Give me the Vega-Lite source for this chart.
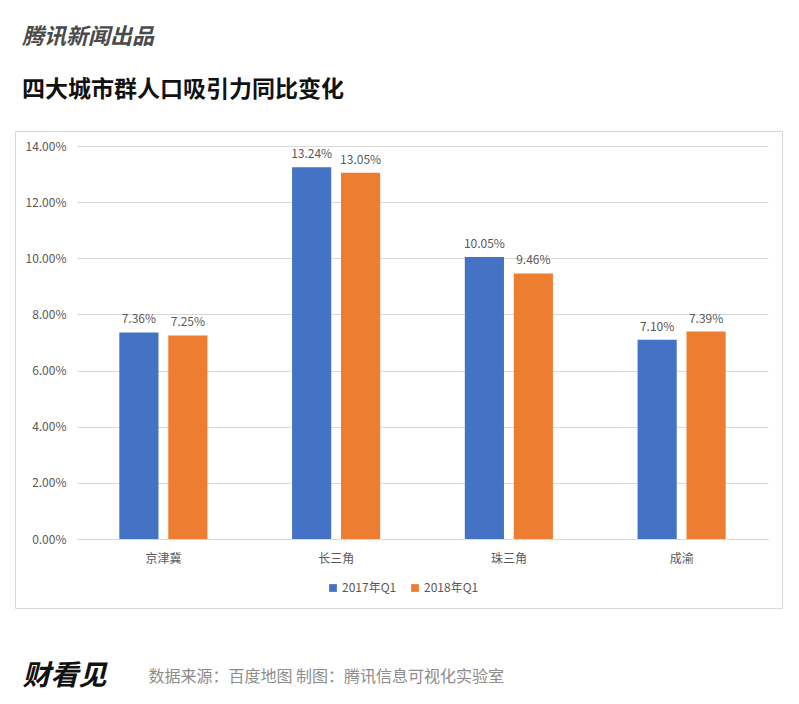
{
  "$schema": "https://vega.github.io/schema/vega-lite/v6.json",
  "autosize": {"type": "none"},
  "width": 767,
  "height": 477,
  "padding": {"left": 15, "top": 131, "right": 17, "bottom": 96},
  "background": "white",
  "config": {
    "view": {"stroke": "#d9d9d9", "strokeWidth": 1},
    "font": "Noto Sans CJK SC"
  },
  "title": {
    "text": "腾讯新闻出品",
    "subtitle": "四大城市群人口吸引力同比变化",
    "anchor": "start",
    "frame": "group",
    "fontSize": 22,
    "fontWeight": "bold",
    "fontStyle": "italic",
    "color": "#4a4a4a",
    "subtitleFontSize": 23,
    "subtitleFontWeight": "bold",
    "subtitleColor": "#111111",
    "subtitlePadding": 30,
    "offset": 28,
    "dx": 7
  },
  "data": {
    "values": [
      {"region": "京津冀", "series": "2017年Q1", "value": 0.0736},
      {"region": "京津冀", "series": "2018年Q1", "value": 0.0725},
      {"region": "长三角", "series": "2017年Q1", "value": 0.1324},
      {"region": "长三角", "series": "2018年Q1", "value": 0.1305},
      {"region": "珠三角", "series": "2017年Q1", "value": 0.1005},
      {"region": "珠三角", "series": "2018年Q1", "value": 0.0946},
      {"region": "成渝", "series": "2017年Q1", "value": 0.0710},
      {"region": "成渝", "series": "2018年Q1", "value": 0.0739}
    ]
  },
  "encoding": {
    "x": {
      "field": "region",
      "type": "nominal",
      "sort": ["京津冀", "长三角", "珠三角", "成渝"],
      "scale": {"range": [62, 753], "paddingInner": 0.49, "paddingOuter": 0.245},
      "axis": {
        "title": "数据来源：百度地图 制图：腾讯信息可视化实验室",
        "titleX": 133,
        "titleY": 137,
        "titleAlign": "left",
        "titleAnchor": null,
        "titleBaseline": "middle",
        "titleFontSize": 16,
        "titleFontWeight": "normal",
        "titleColor": "#8c8c8c",
        "offset": -69,
        "labelAngle": 0,
        "labelFontSize": 12,
        "labelColor": "#595959",
        "labelPadding": 14,
        "ticks": false,
        "domain": true,
        "domainColor": "#d9d9d9"
      }
    },
    "xOffset": {
      "field": "series",
      "type": "nominal",
      "scale": {"paddingInner": 0.2, "paddingOuter": 0}
    },
    "y": {
      "field": "value",
      "type": "quantitative",
      "scale": {"domain": [0, 0.14], "range": [408, 15], "nice": false},
      "axis": {
        "format": ".2%",
        "values": [0, 0.02, 0.04, 0.06, 0.08, 0.1, 0.12, 0.14],
        "title": "财看见",
        "titleAngle": 0,
        "titleX": -55,
        "titleY": 545,
        "titleAlign": "left",
        "titleAnchor": null,
        "titleBaseline": "middle",
        "titleFontSize": 28,
        "titleFontWeight": "bold",
        "titleFontStyle": "italic",
        "titleColor": "#111111",
        "offset": -62,
        "ticks": false,
        "domain": false,
        "labelPadding": 11,
        "labelFontSize": 12,
        "labelColor": "#595959",
        "gridColor": "#d9d9d9"
      }
    }
  },
  "layer": [
    {
      "mark": {"type": "bar"},
      "encoding": {
        "color": {
          "field": "series",
          "type": "nominal",
          "scale": {"domain": ["2017年Q1", "2018年Q1"], "range": ["#4472C4", "#ED7D31"]},
          "legend": {
            "title": null,
            "orient": "none",
            "direction": "horizontal",
            "legendX": 312,
            "legendY": 451,
            "symbolType": "square",
            "symbolSize": 60,
            "symbolStrokeWidth": 0,
            "labelFontSize": 12,
            "labelColor": "#595959",
            "labelOffset": 3,
            "columnPadding": 12
          }
        }
      }
    },
    {
      "mark": {"type": "text", "dy": -13, "fontSize": 12, "color": "#595959"},
      "encoding": {
        "text": {"field": "value", "type": "quantitative", "format": ".2%"}
      }
    }
  ]
}
